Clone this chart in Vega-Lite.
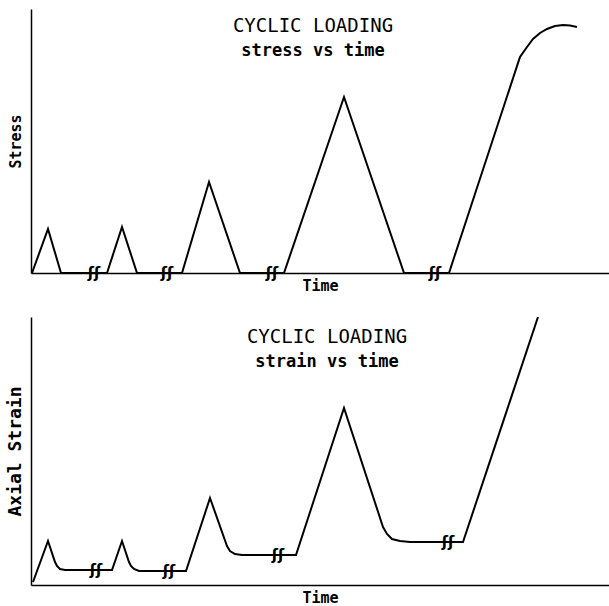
{
  "$schema": "https://vega.github.io/schema/vega-lite/v6.json",
  "background": "white",
  "padding": {"left": 6, "top": 9, "right": 0, "bottom": 0},
  "config": {
    "view": {"stroke": null},
    "axis": {"domainColor": "black", "domainWidth": 1.5, "ticks": false, "labels": false, "grid": false, "titleFont": "DejaVu Sans Mono", "titleFontWeight": "bold", "titleColor": "black", "titleFontSize": 15},
    "concat": {"spacing": 24}
  },
  "datasets": {
    "stress": [
      {"time": 1, "stress": 0}, {"time": 17, "stress": 44}, {"time": 30, "stress": 0},
      {"time": 76, "stress": 0}, {"time": 91, "stress": 46}, {"time": 106, "stress": 0},
      {"time": 151, "stress": 0}, {"time": 178, "stress": 91}, {"time": 209, "stress": 0},
      {"time": 253, "stress": 0}, {"time": 313, "stress": 176}, {"time": 373, "stress": 0},
      {"time": 418, "stress": 0}, {"time": 489, "stress": 216}, {"time": 496, "stress": 226},
      {"time": 502, "stress": 234}, {"time": 509, "stress": 240}, {"time": 516, "stress": 244},
      {"time": 524, "stress": 247}, {"time": 532, "stress": 248}, {"time": 539, "stress": 247.5},
      {"time": 546, "stress": 246}
    ],
    "stressBreaks": [
      {"time": 63, "stress": 0}, {"time": 136, "stress": 0}, {"time": 241, "stress": 0}, {"time": 404, "stress": 0}
    ],
    "strain": [
      {"time": 2, "strain": 3}, {"time": 17, "strain": 44}, {"time": 24, "strain": 23},
      {"time": 26, "strain": 19}, {"time": 29, "strain": 16}, {"time": 34, "strain": 15},
      {"time": 81, "strain": 15}, {"time": 91, "strain": 44}, {"time": 98, "strain": 23},
      {"time": 100, "strain": 19}, {"time": 103, "strain": 16}, {"time": 108, "strain": 14},
      {"time": 155, "strain": 14}, {"time": 179, "strain": 87}, {"time": 196, "strain": 39},
      {"time": 199, "strain": 34}, {"time": 204, "strain": 31}, {"time": 211, "strain": 30},
      {"time": 265, "strain": 30}, {"time": 313, "strain": 177}, {"time": 352, "strain": 58},
      {"time": 356, "strain": 51}, {"time": 361, "strain": 46}, {"time": 369, "strain": 44},
      {"time": 379, "strain": 43}, {"time": 432, "strain": 43}, {"time": 507, "strain": 268}
    ],
    "strainBreaks": [
      {"time": 65, "strain": 15}, {"time": 138, "strain": 14}, {"time": 247, "strain": 30}, {"time": 417, "strain": 43}
    ]
  },
  "vconcat": [
    {
      "width": 578,
      "height": 264,
      "title": {
        "text": "CYCLIC LOADING", "subtitle": "stress vs time",
        "anchor": "middle", "frame": "group", "offset": -50, "dx": -7,
        "font": "DejaVu Sans Mono", "fontSize": 19, "fontWeight": "normal", "color": "black",
        "subtitleFont": "DejaVu Sans Mono", "subtitleFontSize": 17, "subtitleFontWeight": "bold", "subtitleColor": "black", "subtitlePadding": 7
      },
      "layer": [
        {
          "data": {"name": "stress"},
          "mark": {"type": "line", "color": "black", "strokeWidth": 2, "clip": true},
          "encoding": {
            "x": {"field": "time", "type": "quantitative", "scale": {"domain": [0, 578], "nice": false}, "axis": {"title": "Time", "titlePadding": 5}},
            "y": {"field": "stress", "type": "quantitative", "scale": {"domain": [0, 264], "nice": false}, "axis": {"title": "Stress", "titlePadding": 8}}
          }
        },
        {
          "mark": {"type": "rule", "color": "black", "strokeWidth": 1.5},
          "encoding": {"y": {"datum": 264}}
        },
        {
          "data": {"name": "stressBreaks"},
          "mark": {"type": "text", "text": "ʃʃ", "font": "DejaVu Sans", "fontSize": 15, "fontWeight": "bold", "color": "black", "align": "center", "baseline": "middle"},
          "encoding": {
            "x": {"field": "time", "type": "quantitative"},
            "y": {"field": "stress", "type": "quantitative"}
          }
        }
      ]
    },
    {
      "width": 578,
      "height": 268,
      "title": {
        "text": "CYCLIC LOADING", "subtitle": "strain vs time",
        "anchor": "middle", "frame": "group", "offset": -53, "dx": 7,
        "font": "DejaVu Sans Mono", "fontSize": 19, "fontWeight": "normal", "color": "black",
        "subtitleFont": "DejaVu Sans Mono", "subtitleFontSize": 17, "subtitleFontWeight": "bold", "subtitleColor": "black", "subtitlePadding": 7
      },
      "layer": [
        {
          "data": {"name": "strain"},
          "mark": {"type": "line", "color": "black", "strokeWidth": 2, "clip": true},
          "encoding": {
            "x": {"field": "time", "type": "quantitative", "scale": {"domain": [0, 578], "nice": false}, "axis": {"title": "Time", "titlePadding": 5}},
            "y": {"field": "strain", "type": "quantitative", "scale": {"domain": [0, 268], "nice": false}, "axis": {"title": "Axial Strain", "titlePadding": 7, "titleFontSize": 18}}
          }
        },
        {
          "mark": {"type": "rule", "color": "black", "strokeWidth": 1.5},
          "encoding": {"y": {"datum": 268}}
        },
        {
          "data": {"name": "strainBreaks"},
          "mark": {"type": "text", "text": "ʃʃ", "font": "DejaVu Sans", "fontSize": 15, "fontWeight": "bold", "color": "black", "align": "center", "baseline": "middle"},
          "encoding": {
            "x": {"field": "time", "type": "quantitative"},
            "y": {"field": "strain", "type": "quantitative"}
          }
        }
      ]
    }
  ]
}
